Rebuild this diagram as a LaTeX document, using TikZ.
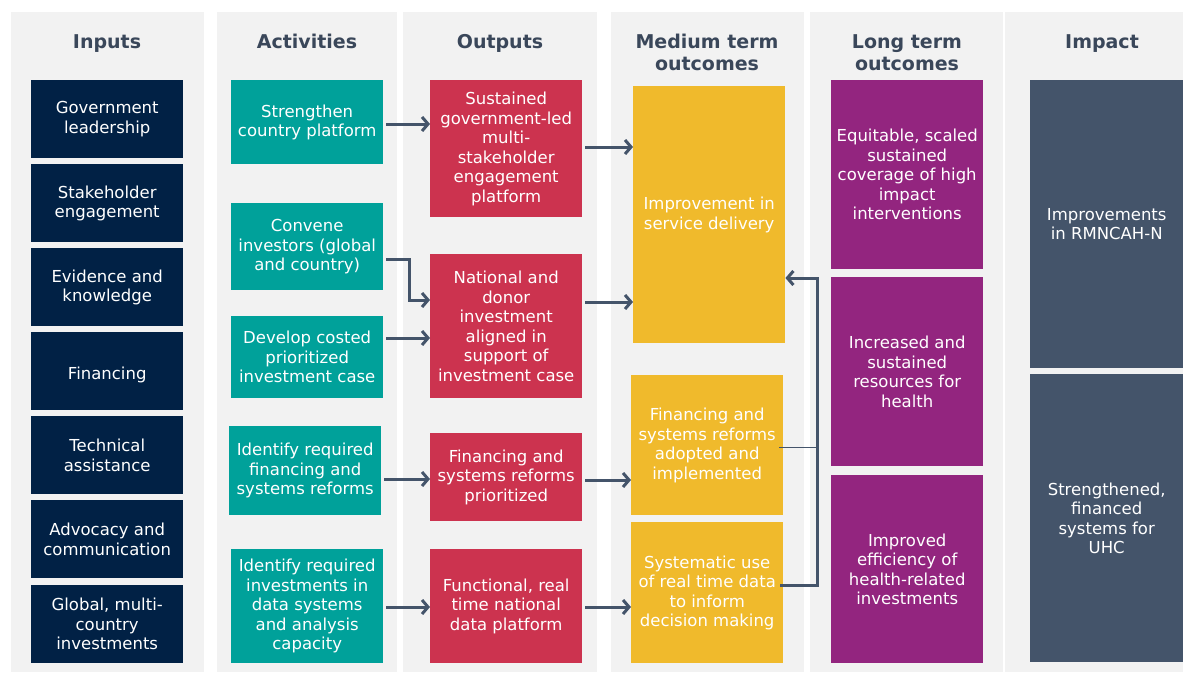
\documentclass[tikz,border=0pt]{standalone}
\usepackage{fontspec}
\setmainfont{DejaVu Sans}
\usetikzlibrary{arrows.meta}
\definecolor{colbg}{HTML}{F2F2F2}
\definecolor{inputc}{HTML}{012145}
\definecolor{actc}{HTML}{00A19A}
\definecolor{outc}{HTML}{CC334F}
\definecolor{medc}{HTML}{F0BA2C}
\definecolor{longc}{HTML}{93257F}
\definecolor{impc}{HTML}{44546A}
\definecolor{headc}{HTML}{3A475A}
\tikzset{
  cell/.style={anchor=north west, align=center, text=white, inner sep=2pt,
    font=\fontsize{16.5}{19.5}\selectfont,
    execute at begin node={\rule{0pt}{20pt}}},
  inbox/.style={cell, fill=inputc, minimum width=152pt, minimum height=78pt},
  actbox/.style={cell, fill=actc, minimum width=152pt},
  outbox/.style={cell, fill=outc, minimum width=152pt},
  medbox/.style={cell, fill=medc, minimum width=152pt},
  longbox/.style={cell, fill=longc, minimum width=152pt},
  impbox/.style={cell, fill=impc, minimum width=153pt},
  head/.style={anchor=base, align=center, text=headc,
    font=\fontsize{19}{22}\selectfont\bfseries},
  flow/.style={draw=impc, line width=3pt, shorten <=3pt,
    -{Straight Barb[length=6pt,width=14pt]}}
}
\begin{document}
\begin{tikzpicture}[x=1pt, y=-1pt]
  \useasboundingbox[fill=white] (0,0) rectangle (1183,672);
  \foreach \xa/\xb in {11/204, 217/397, 403/597, 611/804, 810/1003, 1005/1183}
    \fill[colbg] (\xa,12) rectangle (\xb,672);

  \node[head] (hin) at (107,48) {Inputs};
  \node[head] (hact) at (307,48) {Activities};
  \node[head] (hout) at (500,48) {Outputs};
  \node[head] (hmed) at (707,70) {Medium term\\outcomes};
  \node[head] (hlong) at (907,70) {Long term\\outcomes};
  \node[head] (himp) at (1102,48) {Impact};

  \node[inbox] (gov) at (31,80) {Government\\leadership};
  \node[inbox] (stake) at (31,164) {Stakeholder\\engagement};
  \node[inbox] (evid) at (31,248) {Evidence and\\knowledge};
  \node[inbox] (fin) at (31,332) {Financing};
  \node[inbox] (tech) at (31,416) {Technical\\assistance};
  \node[inbox] (advo) at (31,500) {Advocacy and\\communication};
  \node[inbox] (glob) at (31,585) {Global, multi-\\country\\investments};

  \node[actbox, minimum height=84pt] (streng) at (231,80) {Strengthen\\country platform};
  \node[actbox, minimum height=87pt] (conv) at (231,203) {Convene\\investors (global\\and country)};
  \node[actbox, minimum height=82pt] (devel) at (231,316) {Develop costed\\prioritized\\investment case};
  \node[actbox, minimum height=89pt] (idfin) at (229,426) {Identify required\\financing and\\systems reforms};
  \node[actbox, minimum height=114pt] (iddata) at (231,549) {Identify required\\investments in\\data systems\\and analysis\\capacity};

  \node[outbox, minimum height=137pt] (sust) at (430,80) {Sustained\\government-led\\multi-\\stakeholder\\engagement\\platform};
  \node[outbox, minimum height=144pt] (natl) at (430,254) {National and\\donor\\investment\\aligned in\\support of\\investment case};
  \node[outbox, minimum height=88pt] (finpri) at (430,433) {Financing and\\systems reforms\\prioritized};
  \node[outbox, minimum height=114pt] (func) at (430,549) {Functional, real\\time national\\data platform};

  \node[medbox, minimum height=257pt] (impr) at (633,86) {Improvement in\\service delivery};
  \node[medbox, minimum height=140pt] (adopt) at (631,375) {Financing and\\systems reforms\\adopted and\\implemented};
  \node[medbox, minimum height=141pt] (syst) at (631,522) {Systematic use\\of real time data\\to inform\\decision making};

  \node[longbox, minimum height=189pt] (equit) at (831,80) {Equitable, scaled\\sustained\\coverage of high\\impact\\interventions};
  \node[longbox, minimum height=189pt] (incr) at (831,277) {Increased and\\sustained\\resources for\\health};
  \node[longbox, minimum height=188pt] (effic) at (831,475) {Improved\\efficiency of\\health-related\\investments};

  \node[impbox, minimum height=288pt] (rmn) at (1030,80) {Improvements\\in RMNCAH-N};
  \node[impbox, minimum height=288pt] (uhc) at (1030,374) {Strengthened,\\financed\\systems for\\UHC};

  \coordinate (convbend) at (409,300);
  \coordinate (fb) at (817,278);
  \begin{scope}
    \draw[flow] (streng.east |- 0,124) -- (sust.west |- 0,124);
    \draw[flow] (sust.east |- 0,147) -- (impr.west |- 0,147);
    \draw[flow] (conv.east |- 0,259) -| (convbend) -- (natl.west |- convbend);
    \draw[flow] (devel.east |- 0,338) -- (natl.west |- 0,338);
    \draw[flow] (natl.east |- 0,302) -- (impr.west |- 0,302);
    \draw[flow] (idfin.east |- 0,479) -- (finpri.west |- 0,479);
    \draw[flow] (finpri.east |- 0,480) -- (adopt.west |- 0,480);
    \draw[flow] (iddata.east |- 0,607) -- (func.west |- 0,607);
    \draw[flow] (func.east |- 0,607) -- (syst.west |- 0,607);
    \draw[flow, shorten <=-3pt] (syst.east |- 0,585) -| (fb) -- (impr.east |- fb);
    \draw[impc, line width=0.8pt] ([xshift=-4pt]adopt.east |- 0,447) -- (fb |- 0,447);
  \end{scope}
\end{tikzpicture}
\end{document}
